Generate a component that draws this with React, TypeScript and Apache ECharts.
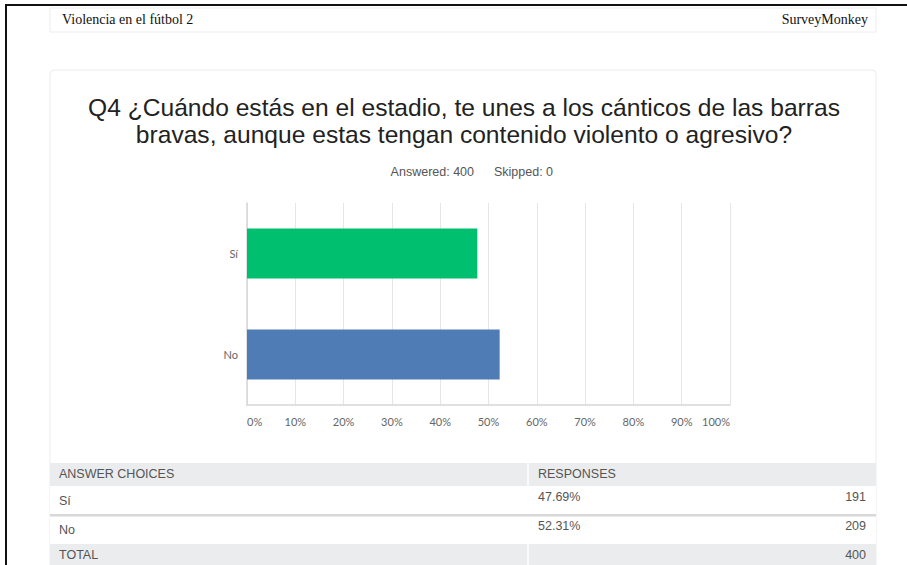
import React, { useEffect, useRef } from "react";
import * as echarts from "echarts";

const categories = ["Sí", "No"];
const percentValues = [47.69, 52.31];
const counts = [191, 209];
const totalCount = 400;
const barColors = ["#00bf6f", "#507cb6"];
const xTicks = [0, 10, 20, 30, 40, 50, 60, 70, 80, 90, 100];

const surveyName = "Violencia en el fútbol 2";
const brand = "SurveyMonkey";
const titleLine1 = "Q4 ¿Cuándo estás en el estadio, te unes a los cánticos de las barras";
const titleLine2 = "bravas, aunque estas tengan contenido violento o agresivo?";
const answeredText = "Answered: 400";
const skippedText = "Skipped: 0";

export default function App() {
  const ref = useRef<HTMLDivElement>(null);
  useEffect(() => {
    if (!ref.current) return;
    const chart = echarts.init(ref.current, undefined, { renderer: "svg" });
    const sans = "'Liberation Sans', Arial, Helvetica, sans-serif";
    const serif = "'Liberation Serif', 'Times New Roman', serif";
    const tGray = "#555";
    const L = 50, R = 876, DIV = 528;
    const rows = [
      { y: 463, h: 23, fill: "#ebeced" },
      { y: 486, h: 28, fill: "#ffffff" },
      { y: 516, h: 28, fill: "#ffffff" },
      { y: 544, h: 22, fill: "#ebeced" },
    ];
    const graphic: any[] = [
      { type: "rect", shape: { x: 6, y: 5, width: 910, height: 600 }, style: { fill: "none", stroke: "#111", lineWidth: 2 }, silent: true },
      { type: "rect", shape: { x: L, y: 8, width: R - L, height: 24 }, style: { fill: "#fff", stroke: "#ececec", lineWidth: 1 } },
      { type: "text", x: 62, y: 19, style: { text: surveyName, font: `14px ${serif}`, fill: "#111", verticalAlign: "middle" } },
      { type: "text", x: 868, y: 19, style: { text: brand, font: `14px ${serif}`, fill: "#111", align: "right", verticalAlign: "middle" } },
      { type: "rect", shape: { x: L, y: 70, width: R - L, height: 520, r: 4 }, style: { fill: "#fff", stroke: "#ececec", lineWidth: 1 }, z: -1 },
      { type: "text", x: 464, y: 107, style: { text: titleLine1, font: `24.6px ${sans}`, fill: "#222", align: "center", verticalAlign: "middle" } },
      { type: "text", x: 464, y: 134, style: { text: titleLine2, font: `24.6px ${sans}`, fill: "#222", align: "center", verticalAlign: "middle" } },
      { type: "text", x: 474, y: 172, style: { text: answeredText, font: `12.5px ${sans}`, fill: tGray, align: "right", verticalAlign: "middle" } },
      { type: "text", x: 494, y: 172, style: { text: skippedText, font: `12.5px ${sans}`, fill: tGray, align: "left", verticalAlign: "middle" } },
    ];
    rows.forEach((r) => {
      graphic.push({ type: "rect", shape: { x: L, y: r.y, width: R - L, height: r.h }, style: { fill: r.fill } });
    });
    graphic.push({ type: "line", shape: { x1: DIV, y1: 463, x2: DIV, y2: 486 }, style: { stroke: "#fff", lineWidth: 1.5 } });
    graphic.push({ type: "line", shape: { x1: DIV, y1: 544, x2: DIV, y2: 566 }, style: { stroke: "#fff", lineWidth: 1.5 } });
    graphic.push({ type: "rect", shape: { x: L, y: 514, width: R - L, height: 2.5 }, style: { fill: "#d8d8d8" } });
    const tf = `12.5px ${sans}`;
    graphic.push({ type: "text", x: 59, y: 474, style: { text: "ANSWER CHOICES", font: tf, fill: tGray, verticalAlign: "middle" } });
    graphic.push({ type: "text", x: 538, y: 474, style: { text: "RESPONSES", font: tf, fill: tGray, verticalAlign: "middle" } });
    const rowYs = [501, 530];
    categories.forEach((c, i) => {
      graphic.push({ type: "text", x: 59, y: rowYs[i], style: { text: c, font: tf, fill: tGray, verticalAlign: "middle" } });
      graphic.push({ type: "text", x: 538, y: rowYs[i] - 4, style: { text: percentValues[i].toFixed(2) + "%", font: tf, fill: tGray, verticalAlign: "middle" } });
      graphic.push({ type: "text", x: 866, y: rowYs[i] - 4, style: { text: String(counts[i]), font: tf, fill: tGray, align: "right", verticalAlign: "middle" } });
    });
    graphic.push({ type: "text", x: 59, y: 555, style: { text: "TOTAL", font: tf, fill: tGray, verticalAlign: "middle" } });
    graphic.push({ type: "text", x: 866, y: 555, style: { text: String(totalCount), font: tf, fill: tGray, align: "right", verticalAlign: "middle" } });

    const axisFont = "Lato, 'Open Sans', sans-serif";
    chart.setOption({
      animation: false,
      backgroundColor: "#fff",
      graphic,
      grid: { left: 247, right: 177, top: 203, bottom: 160, containLabel: false },
      xAxis: {
        type: "value",
        min: xTicks[0],
        max: xTicks[xTicks.length - 1],
        interval: 10,
        axisLine: { show: true, lineStyle: { color: "#d6d6d6", width: 1.5 } },
        axisTick: { show: false },
        splitLine: { show: true, lineStyle: { color: "#e6e6e6", width: 1 } },
        axisLabel: {
          formatter: "{value}%",
          color: "#666",
          fontSize: 11,
          fontFamily: axisFont,
          margin: 11,
          alignMinLabel: "left",
          alignMaxLabel: "right",
        },
      },
      yAxis: {
        type: "category",
        data: categories,
        inverse: true,
        axisLine: { show: true, lineStyle: { color: "#d6d6d6", width: 1.5 } },
        axisTick: { show: false },
        axisLabel: { color: "#666", fontSize: 11, fontFamily: axisFont, margin: 9 },
      },
      series: [
        {
          type: "bar",
          barWidth: 50,
          data: percentValues.map((v, i) => ({ value: v, itemStyle: { color: barColors[i] } })),
        },
      ],
    });
    return () => chart.dispose();
  }, []);
  return <div ref={ref} style={{ position: "fixed", left: 0, top: 0, width: 907, height: 565 }} />;
}
